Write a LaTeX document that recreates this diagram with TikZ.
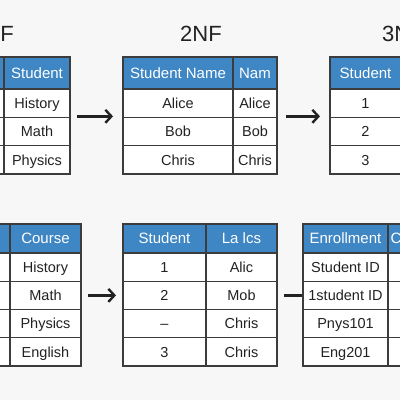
\documentclass[tikz,border=0pt]{standalone}
\usepackage{fontspec}
\setmainfont{Liberation Sans}
\usetikzlibrary{positioning, arrows.meta}
\definecolor{hdrBlue}{HTML}{3E86C4}
\definecolor{gridLine}{HTML}{3C3C3C}
\definecolor{pageBg}{HTML}{F7F7F7}
\definecolor{inkDark}{HTML}{222222}

\begin{document}
\begin{tikzpicture}[x=1pt, y=-1pt,
  hdr/.style={draw=gridLine, line width=1.2pt, fill=hdrBlue, text=white, minimum height=#1, inner sep=0pt, outer sep=0pt, anchor=north west, text height=10.8pt, text depth=0pt, font=\fontsize{15}{17}\selectfont},
  hdr/.default=32pt,
  cell/.style={draw=gridLine, line width=1.2pt, fill=white, text=inkDark, minimum height=#1, inner sep=0pt, outer sep=0pt, text height=10.4pt, text depth=0pt, font=\fontsize{14.5}{17}\selectfont},
  cell/.default=28.33pt,
  ttl/.style={text=inkDark, font=\fontsize{22}{24}\selectfont},
  flow/.style={draw=inkDark, line width=2.4pt, -{Straight Barb[length=6pt, width=13pt]}},
  link/.style={draw=inkDark, line width=2.4pt}]
\useasboundingbox (0,0) rectangle (400,400);
\fill[pageBg] (0,0) rectangle (400,400);
\clip (0,0) rectangle (400,400);
% top row: 1NF -> 2NF -> 3NF
\node[ttl] (ttl1) at (-7,33.5) {1NF};
\node[ttl] (ttl2) at (201,33.5) {2NF};
\node[ttl] (ttl3) at (403,33.5) {3NF};
\node[hdr, minimum width=40pt] (f1x) at (-36,57) {};
\node[hdr, minimum width=66pt, right=0pt of f1x] (f1stud) {Student};
\node[cell, minimum width=40pt, below=0pt of f1x] (f1x1) {};
\node[cell, minimum width=40pt, below=0pt of f1x1] (f1x2) {};
\node[cell, minimum width=40pt, below=0pt of f1x2] (f1x3) {};
\node[cell, minimum width=66pt, below=0pt of f1stud] (f1hist) {History};
\node[cell, minimum width=66pt, below=0pt of f1hist] (f1math) {Math};
\node[cell, minimum width=66pt, below=0pt of f1math] (f1phys) {Physics};
\node[hdr, minimum width=110pt] (f2name) at (123,57) {Student Name};
\node[hdr, minimum width=44pt, right=0pt of f2name] (f2nam) {Nam};
\node[cell, minimum width=110pt, below=0pt of f2name] (f2alice) {Alice};
\node[cell, minimum width=110pt, below=0pt of f2alice] (f2bob) {Bob};
\node[cell, minimum width=110pt, below=0pt of f2bob] (f2chris) {Chris};
\node[cell, minimum width=44pt, below=0pt of f2nam] (f2alice2) {Alice};
\node[cell, minimum width=44pt, below=0pt of f2alice2] (f2bob2) {Bob};
\node[cell, minimum width=44pt, below=0pt of f2bob2] (f2chris2) {Chris};
\node[hdr, minimum width=71pt] (f3stud) at (330,57) {Student};
\node[cell, minimum width=71pt, below=0pt of f3stud] (f3one) {1};
\node[cell, minimum width=71pt, below=0pt of f3one] (f3two) {2};
\node[cell, minimum width=71pt, below=0pt of f3two] (f3three) {3};
\draw[flow] ([shift={(7,-1)}]f1hist.south east) -- ([shift={(-10,-1)}]f2alice.south west);
\draw[flow] ([shift={(9,-1)}]f2alice2.south east) -- ([shift={(-10,-1)}]f3one.south west);
% bottom row
\node[hdr=29pt, minimum width=46pt] (c4x) at (-36,224) {};
\node[hdr=29pt, minimum width=71pt, right=0pt of c4x] (c4course) {Course};
\node[cell=28.25pt, minimum width=46pt, below=0pt of c4x] (c4x1) {};
\node[cell=28.25pt, minimum width=46pt, below=0pt of c4x1] (c4x2) {};
\node[cell=28.25pt, minimum width=46pt, below=0pt of c4x2] (c4x3) {};
\node[cell=28.25pt, minimum width=46pt, below=0pt of c4x3] (c4x4) {};
\node[cell=28.25pt, minimum width=71pt, below=0pt of c4course] (c4hist) {History};
\node[cell=28.25pt, minimum width=71pt, below=0pt of c4hist] (c4math) {Math};
\node[cell=28.25pt, minimum width=71pt, below=0pt of c4math] (c4phys) {Physics};
\node[cell=28.25pt, minimum width=71pt, below=0pt of c4phys] (c4eng) {English};
\node[hdr=29pt, minimum width=83pt] (c5stud) at (123,224) {Student};
\node[hdr=29pt, minimum width=71pt, right=0pt of c5stud] (c5lalcs) {La lcs};
\node[cell=28.25pt, minimum width=83pt, below=0pt of c5stud] (c5one) {1};
\node[cell=28.25pt, minimum width=83pt, below=0pt of c5one] (c5two) {2};
\node[cell=28.25pt, minimum width=83pt, below=0pt of c5two] (c5dash) {--};
\node[cell=28.25pt, minimum width=83pt, below=0pt of c5dash] (c5three) {3};
\node[cell=28.25pt, minimum width=71pt, below=0pt of c5lalcs] (c5alic) {Alic};
\node[cell=28.25pt, minimum width=71pt, below=0pt of c5alic] (c5mob) {Mob};
\node[cell=28.25pt, minimum width=71pt, below=0pt of c5mob] (c5chris) {Chris};
\node[cell=28.25pt, minimum width=71pt, below=0pt of c5chris] (c5chris2) {Chris};
\node[hdr=29pt, minimum width=85pt] (c6enr) at (303,224) {Enrollment};
\node[hdr=29pt, minimum width=58pt, text width=53pt, align=left, right=0pt of c6enr] (c6c) {C};
\node[cell=28.25pt, minimum width=85pt, below=0pt of c6enr] (c6sid) {Student ID};
\node[cell=28.25pt, minimum width=85pt, below=0pt of c6sid] (c6sid1) {1student ID};
\node[cell=28.25pt, minimum width=85pt, below=0pt of c6sid1] (c6phys) {Pnys101};
\node[cell=28.25pt, minimum width=85pt, below=0pt of c6phys] (c6eng) {Eng201};
\node[cell=28.25pt, minimum width=58pt, below=0pt of c6c] (c6x1) {};
\node[cell=28.25pt, minimum width=58pt, below=0pt of c6x1] (c6x2) {};
\node[cell=28.25pt, minimum width=58pt, below=0pt of c6x2] (c6x3) {};
\node[cell=28.25pt, minimum width=58pt, below=0pt of c6x3] (c6x4) {};
\draw[flow] ([xshift=7pt]c4math.east) -- ([xshift=-7pt]c5two.west);
\draw[link] ([xshift=7pt]c5mob.east) -- ([xshift=-1pt]c6sid1.west);
\end{tikzpicture}
\end{document}
